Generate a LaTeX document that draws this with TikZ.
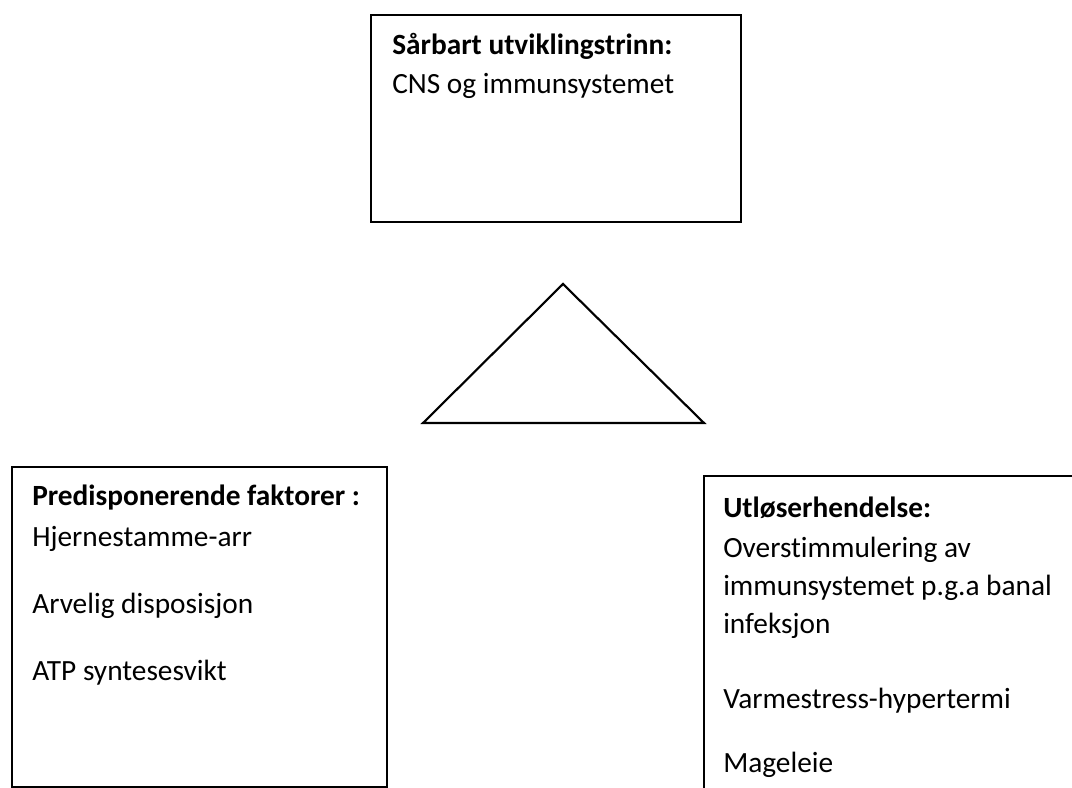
\documentclass[tikz,border=0pt]{standalone}
\usepackage{fontspec}
\setmainfont{Carlito}[Ligatures=NoCommon]
\begin{document}
\begin{tikzpicture}[x=0.75pt,y=-0.75pt,
  boxline/.style={draw=black,line width=1.6pt},
  txt/.style={anchor=base west,inner sep=0pt,font=\fontsize{22}{27}\selectfont},
  head/.style={txt,font=\fontsize{22}{27}\selectfont\bfseries}]
\useasboundingbox (0,0) rectangle (1072,788);
% top box
\node[boxline,anchor=north west,minimum width=370*0.75pt,minimum height=207*0.75pt,inner sep=0pt] (top) at (370,14) {};
\node[head] (t1) at (392,55) {Sårbart utviklingstrinn:};
\node[txt] (t2) at (392,94) {CNS og immunsystemet};
% triangle
\coordinate (apex) at (563,284);
\coordinate (bl) at (423,423);
\coordinate (br) at (704,423);
\draw[boxline,line join=miter] (apex) -- (bl) -- (br) -- cycle;
% left box
\node[boxline,anchor=north west,minimum width=375*0.75pt,minimum height=320*0.75pt,inner sep=0pt] (left) at (11,466) {};
\node[head] (l1) at (32,505) {Predisponerende faktorer :};
\node[txt] (l2) at (32,546) {Hjernestamme-arr};
\node[txt] (l3) at (32,613) {Arvelig disposisjon};
\node[txt] (l4) at (32,680) {ATP syntesesvikt};
% right box (cut off by page)
\coordinate (rtr) at (1072,476);
\coordinate (rtl) at (704,476);
\coordinate (rbl) at (704,788);
\draw[boxline] (rtr) -- (rtl) -- (rbl);
\node[head] (r1) at (723,517) {Utløserhendelse:};
\node[txt] (r2) at (723,557) {Overstimmulering av};
\node[txt] (r3) at (723,595) {immunsystemet p.g.a banal};
\node[txt] (r4) at (723,633) {infeksjon};
\node[txt] (r5) at (723,708) {Varmestress-hypertermi};
\node[txt] (r6) at (723,772) {Mageleie};
\end{tikzpicture}
\end{document}
